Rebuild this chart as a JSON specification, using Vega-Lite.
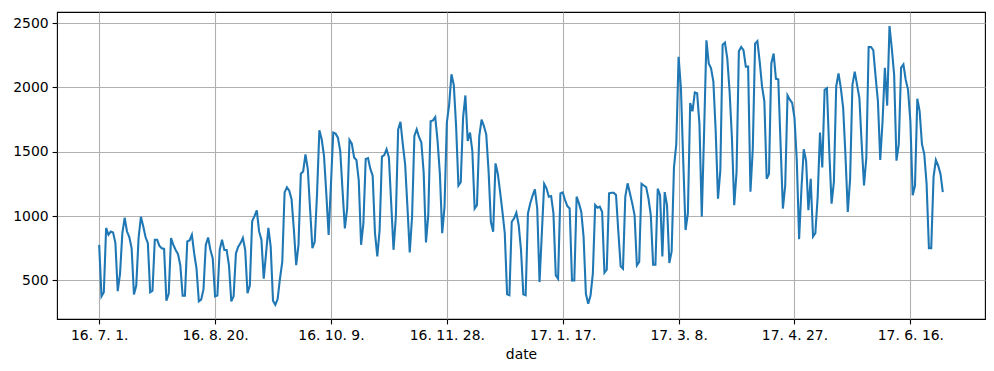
{
"$schema":"https://vega.github.io/schema/vega-lite/v6.json",
"autosize":{"type":"none"},
"width":928,"height":307,
"padding":{"left":57,"top":12,"right":9,"bottom":52},
"background":"white",
"config":{"view":{"stroke":"black","strokeWidth":1.1},
"axis":{"labelFont":"DejaVu Sans","titleFont":"DejaVu Sans","labelFontSize":13.9,"titleFontSize":13.9,"labelColor":"black","titleColor":"black","titleFontWeight":"normal","tickColor":"black","tickWidth":1.1,"tickSize":4.9,"labelPadding":4,"domain":false,"gridColor":"#b0b0b0","gridWidth":1.1,"gridOpacity":1}},
"data":{"values":[
{"d":"2016-07-01","v":776},{"d":"2016-07-02","v":376},{"d":"2016-07-03","v":408},{"d":"2016-07-04","v":908},{"d":"2016-07-05","v":855},{"d":"2016-07-06","v":880},{"d":"2016-07-07","v":873},{"d":"2016-07-08","v":790},{"d":"2016-07-09","v":416},{"d":"2016-07-10","v":553},{"d":"2016-07-11","v":868},{"d":"2016-07-12","v":987},{"d":"2016-07-13","v":880},{"d":"2016-07-14","v":837},{"d":"2016-07-15","v":750},{"d":"2016-07-16","v":390},{"d":"2016-07-17","v":460},{"d":"2016-07-18","v":830},{"d":"2016-07-19","v":995},{"d":"2016-07-20","v":921},{"d":"2016-07-21","v":837},{"d":"2016-07-22","v":790},{"d":"2016-07-23","v":408},{"d":"2016-07-24","v":421},{"d":"2016-07-25","v":816},{"d":"2016-07-26","v":816},{"d":"2016-07-27","v":768},{"d":"2016-07-28","v":750},{"d":"2016-07-29","v":745},{"d":"2016-07-30","v":342},{"d":"2016-07-31","v":395},
{"d":"2016-08-01","v":830},{"d":"2016-08-02","v":776},{"d":"2016-08-03","v":737},{"d":"2016-08-04","v":705},{"d":"2016-08-05","v":618},{"d":"2016-08-06","v":382},{"d":"2016-08-07","v":382},{"d":"2016-08-08","v":803},{"d":"2016-08-09","v":811},{"d":"2016-08-10","v":855},{"d":"2016-08-11","v":710},{"d":"2016-08-12","v":592},{"d":"2016-08-13","v":337},{"d":"2016-08-14","v":350},{"d":"2016-08-15","v":430},{"d":"2016-08-16","v":776},{"d":"2016-08-17","v":834},{"d":"2016-08-18","v":737},{"d":"2016-08-19","v":671},{"d":"2016-08-20","v":376},{"d":"2016-08-21","v":382},{"d":"2016-08-22","v":737},{"d":"2016-08-23","v":816},{"d":"2016-08-24","v":737},{"d":"2016-08-25","v":737},{"d":"2016-08-26","v":618},{"d":"2016-08-27","v":337},{"d":"2016-08-28","v":376},{"d":"2016-08-29","v":710},{"d":"2016-08-30","v":763},{"d":"2016-08-31","v":790},
{"d":"2016-09-01","v":830},{"d":"2016-09-02","v":737},{"d":"2016-09-03","v":400},{"d":"2016-09-04","v":460},{"d":"2016-09-05","v":960},{"d":"2016-09-06","v":1000},{"d":"2016-09-07","v":1045},{"d":"2016-09-08","v":881},{"d":"2016-09-09","v":816},{"d":"2016-09-10","v":513},{"d":"2016-09-11","v":710},{"d":"2016-09-12","v":908},{"d":"2016-09-13","v":763},{"d":"2016-09-14","v":342},{"d":"2016-09-15","v":310},{"d":"2016-09-16","v":355},{"d":"2016-09-17","v":513},{"d":"2016-09-18","v":645},{"d":"2016-09-19","v":1184},{"d":"2016-09-20","v":1224},{"d":"2016-09-21","v":1197},{"d":"2016-09-22","v":1132},{"d":"2016-09-23","v":895},{"d":"2016-09-24","v":618},{"d":"2016-09-25","v":776},{"d":"2016-09-26","v":1329},{"d":"2016-09-27","v":1347},{"d":"2016-09-28","v":1479},{"d":"2016-09-29","v":1368},{"d":"2016-09-30","v":1053},
{"d":"2016-10-01","v":751},{"d":"2016-10-02","v":800},{"d":"2016-10-03","v":1174},{"d":"2016-10-04","v":1667},{"d":"2016-10-05","v":1597},{"d":"2016-10-06","v":1469},{"d":"2016-10-07","v":1174},{"d":"2016-10-08","v":854},{"d":"2016-10-09","v":1250},{"d":"2016-10-10","v":1649},{"d":"2016-10-11","v":1641},{"d":"2016-10-12","v":1610},{"d":"2016-10-13","v":1508},{"d":"2016-10-14","v":1200},{"d":"2016-10-15","v":905},{"d":"2016-10-16","v":1059},{"d":"2016-10-17","v":1592},{"d":"2016-10-18","v":1564},{"d":"2016-10-19","v":1456},{"d":"2016-10-20","v":1436},{"d":"2016-10-21","v":1277},{"d":"2016-10-22","v":777},{"d":"2016-10-23","v":944},{"d":"2016-10-24","v":1444},{"d":"2016-10-25","v":1451},{"d":"2016-10-26","v":1367},{"d":"2016-10-27","v":1315},{"d":"2016-10-28","v":867},{"d":"2016-10-29","v":687},{"d":"2016-10-30","v":892},{"d":"2016-10-31","v":1462},
{"d":"2016-11-01","v":1474},{"d":"2016-11-02","v":1520},{"d":"2016-11-03","v":1456},{"d":"2016-11-04","v":1097},{"d":"2016-11-05","v":738},{"d":"2016-11-06","v":995},{"d":"2016-11-07","v":1674},{"d":"2016-11-08","v":1733},{"d":"2016-11-09","v":1559},{"d":"2016-11-10","v":1405},{"d":"2016-11-11","v":1072},{"d":"2016-11-12","v":718},{"d":"2016-11-13","v":995},{"d":"2016-11-14","v":1623},{"d":"2016-11-15","v":1674},{"d":"2016-11-16","v":1615},{"d":"2016-11-17","v":1572},{"d":"2016-11-18","v":1340},{"d":"2016-11-19","v":795},{"d":"2016-11-20","v":1010},{"d":"2016-11-21","v":1738},{"d":"2016-11-22","v":1744},{"d":"2016-11-23","v":1769},{"d":"2016-11-24","v":1585},{"d":"2016-11-25","v":1328},{"d":"2016-11-26","v":867},{"d":"2016-11-27","v":1072},{"d":"2016-11-28","v":1726},{"d":"2016-11-29","v":1867},{"d":"2016-11-30","v":2103},
{"d":"2016-12-01","v":2020},{"d":"2016-12-02","v":1700},{"d":"2016-12-03","v":1238},{"d":"2016-12-04","v":1264},{"d":"2016-12-05","v":1764},{"d":"2016-12-06","v":1938},{"d":"2016-12-07","v":1585},{"d":"2016-12-08","v":1649},{"d":"2016-12-09","v":1508},{"d":"2016-12-10","v":1059},{"d":"2016-12-11","v":1085},{"d":"2016-12-12","v":1623},{"d":"2016-12-13","v":1751},{"d":"2016-12-14","v":1700},{"d":"2016-12-15","v":1636},{"d":"2016-12-16","v":1354},{"d":"2016-12-17","v":956},{"d":"2016-12-18","v":879},{"d":"2016-12-19","v":1410},{"d":"2016-12-20","v":1328},{"d":"2016-12-21","v":1187},{"d":"2016-12-22","v":1033},{"d":"2016-12-23","v":867},{"d":"2016-12-24","v":392},{"d":"2016-12-25","v":385},{"d":"2016-12-26","v":956},{"d":"2016-12-27","v":982},{"d":"2016-12-28","v":1026},{"d":"2016-12-29","v":931},{"d":"2016-12-30","v":738},{"d":"2016-12-31","v":392},
{"d":"2017-01-01","v":385},{"d":"2017-01-02","v":1021},{"d":"2017-01-03","v":1100},{"d":"2017-01-04","v":1160},{"d":"2017-01-05","v":1208},{"d":"2017-01-06","v":1060},{"d":"2017-01-07","v":487},{"d":"2017-01-08","v":870},{"d":"2017-01-09","v":1250},{"d":"2017-01-10","v":1216},{"d":"2017-01-11","v":1151},{"d":"2017-01-12","v":1156},{"d":"2017-01-13","v":1021},{"d":"2017-01-14","v":539},{"d":"2017-01-15","v":513},{"d":"2017-01-16","v":1177},{"d":"2017-01-17","v":1185},{"d":"2017-01-18","v":1125},{"d":"2017-01-19","v":1078},{"d":"2017-01-20","v":1060},{"d":"2017-01-21","v":500},{"d":"2017-01-22","v":500},{"d":"2017-01-23","v":1151},{"d":"2017-01-24","v":1099},{"d":"2017-01-25","v":1034},{"d":"2017-01-26","v":839},{"d":"2017-01-27","v":396},{"d":"2017-01-28","v":318},{"d":"2017-01-29","v":383},{"d":"2017-01-30","v":552},{"d":"2017-01-31","v":1086},
{"d":"2017-02-01","v":1065},{"d":"2017-02-02","v":1073},{"d":"2017-02-03","v":1034},{"d":"2017-02-04","v":560},{"d":"2017-02-05","v":583},{"d":"2017-02-06","v":1177},{"d":"2017-02-07","v":1182},{"d":"2017-02-08","v":1182},{"d":"2017-02-09","v":1164},{"d":"2017-02-10","v":878},{"d":"2017-02-11","v":609},{"d":"2017-02-12","v":591},{"d":"2017-02-13","v":1151},{"d":"2017-02-14","v":1255},{"d":"2017-02-15","v":1177},{"d":"2017-02-16","v":1099},{"d":"2017-02-17","v":1008},{"d":"2017-02-18","v":617},{"d":"2017-02-19","v":643},{"d":"2017-02-20","v":1251},{"d":"2017-02-21","v":1238},{"d":"2017-02-22","v":1226},{"d":"2017-02-23","v":1136},{"d":"2017-02-24","v":1008},{"d":"2017-02-25","v":623},{"d":"2017-02-26","v":623},{"d":"2017-02-27","v":1213},{"d":"2017-02-28","v":1162},
{"d":"2017-03-01","v":687},{"d":"2017-03-02","v":1187},{"d":"2017-03-03","v":1085},{"d":"2017-03-04","v":636},{"d":"2017-03-05","v":726},{"d":"2017-03-06","v":1379},{"d":"2017-03-07","v":1559},{"d":"2017-03-08","v":2238},{"d":"2017-03-09","v":1995},{"d":"2017-03-10","v":1431},{"d":"2017-03-11","v":892},{"d":"2017-03-12","v":1021},{"d":"2017-03-13","v":1879},{"d":"2017-03-14","v":1815},{"d":"2017-03-15","v":1962},{"d":"2017-03-16","v":1956},{"d":"2017-03-17","v":1713},{"d":"2017-03-18","v":995},{"d":"2017-03-19","v":1650},{"d":"2017-03-20","v":2367},{"d":"2017-03-21","v":2187},{"d":"2017-03-22","v":2149},{"d":"2017-03-23","v":2046},{"d":"2017-03-24","v":1662},{"d":"2017-03-25","v":1136},{"d":"2017-03-26","v":1354},{"d":"2017-03-27","v":2333},{"d":"2017-03-28","v":2349},{"d":"2017-03-29","v":2226},{"d":"2017-03-30","v":1969},{"d":"2017-03-31","v":1610},
{"d":"2017-04-01","v":1085},{"d":"2017-04-02","v":1341},{"d":"2017-04-03","v":2282},{"d":"2017-04-04","v":2315},{"d":"2017-04-05","v":2290},{"d":"2017-04-06","v":2162},{"d":"2017-04-07","v":2162},{"d":"2017-04-08","v":1190},{"d":"2017-04-09","v":1520},{"d":"2017-04-10","v":2341},{"d":"2017-04-11","v":2360},{"d":"2017-04-12","v":2200},{"d":"2017-04-13","v":2008},{"d":"2017-04-14","v":1892},{"d":"2017-04-15","v":1290},{"d":"2017-04-16","v":1328},{"d":"2017-04-17","v":2187},{"d":"2017-04-18","v":2264},{"d":"2017-04-19","v":2067},{"d":"2017-04-20","v":2064},{"d":"2017-04-21","v":1559},{"d":"2017-04-22","v":1059},{"d":"2017-04-23","v":1238},{"d":"2017-04-24","v":1938},{"d":"2017-04-25","v":1905},{"d":"2017-04-26","v":1880},{"d":"2017-04-27","v":1764},{"d":"2017-04-28","v":1431},{"d":"2017-04-29","v":821},{"d":"2017-04-30","v":1213},
{"d":"2017-05-01","v":1520},{"d":"2017-05-02","v":1431},{"d":"2017-05-03","v":1046},{"d":"2017-05-04","v":1290},{"d":"2017-05-05","v":841},{"d":"2017-05-06","v":867},{"d":"2017-05-07","v":1149},{"d":"2017-05-08","v":1649},{"d":"2017-05-09","v":1379},{"d":"2017-05-10","v":1982},{"d":"2017-05-11","v":1995},{"d":"2017-05-12","v":1508},{"d":"2017-05-13","v":1097},{"d":"2017-05-14","v":1264},{"d":"2017-05-15","v":2008},{"d":"2017-05-16","v":2110},{"d":"2017-05-17","v":1995},{"d":"2017-05-18","v":1841},{"d":"2017-05-19","v":1469},{"d":"2017-05-20","v":1033},{"d":"2017-05-21","v":1290},{"d":"2017-05-22","v":2020},{"d":"2017-05-23","v":2123},{"d":"2017-05-24","v":2020},{"d":"2017-05-25","v":1918},{"d":"2017-05-26","v":1559},{"d":"2017-05-27","v":1238},{"d":"2017-05-28","v":1456},{"d":"2017-05-29","v":2315},{"d":"2017-05-30","v":2315},{"d":"2017-05-31","v":2290},
{"d":"2017-06-01","v":2085},{"d":"2017-06-02","v":1892},{"d":"2017-06-03","v":1436},{"d":"2017-06-04","v":1738},{"d":"2017-06-05","v":2154},{"d":"2017-06-06","v":1859},{"d":"2017-06-07","v":2477},{"d":"2017-06-08","v":2303},{"d":"2017-06-09","v":2097},{"d":"2017-06-10","v":1431},{"d":"2017-06-11","v":1559},{"d":"2017-06-12","v":2154},{"d":"2017-06-13","v":2179},{"d":"2017-06-14","v":2059},{"d":"2017-06-15","v":1982},{"d":"2017-06-16","v":1738},{"d":"2017-06-17","v":1162},{"d":"2017-06-18","v":1238},{"d":"2017-06-19","v":1913},{"d":"2017-06-20","v":1815},{"d":"2017-06-21","v":1559},{"d":"2017-06-22","v":1482},{"d":"2017-06-23","v":1251},{"d":"2017-06-24","v":751},{"d":"2017-06-25","v":751},{"d":"2017-06-26","v":1303},{"d":"2017-06-27","v":1436},{"d":"2017-06-28","v":1392},{"d":"2017-06-29","v":1328},{"d":"2017-06-30","v":1187}
]},
"mark":{"type":"line","color":"#1f77b4","strokeWidth":2.08,"clip":true},
"encoding":{
"x":{"field":"d","type":"temporal","title":"date",
"scale":{"type":"utc","domain":[{"year":2016,"month":6,"date":12,"hours":19,"minutes":12,"utc":true},{"year":2017,"month":7,"date":18,"hours":4,"minutes":48,"utc":true}],"nice":false},
"axis":{"labelExpr":"utcFormat(datum.value, '%y. %-m. %-d.')","titlePadding":5,"labelPadding":5,
"values":[{"year":2016,"month":7,"date":1,"utc":true},{"year":2016,"month":8,"date":20,"utc":true},{"year":2016,"month":10,"date":9,"utc":true},{"year":2016,"month":11,"date":28,"utc":true},{"year":2017,"month":1,"date":17,"utc":true},{"year":2017,"month":3,"date":8,"utc":true},{"year":2017,"month":4,"date":27,"utc":true},{"year":2017,"month":6,"date":16,"utc":true}]}},
"y":{"field":"v","type":"quantitative","title":null,
"scale":{"domain":[200,2587],"nice":false,"zero":false},
"axis":{"values":[500,1000,1500,2000,2500],"format":"d"}}
}
}
